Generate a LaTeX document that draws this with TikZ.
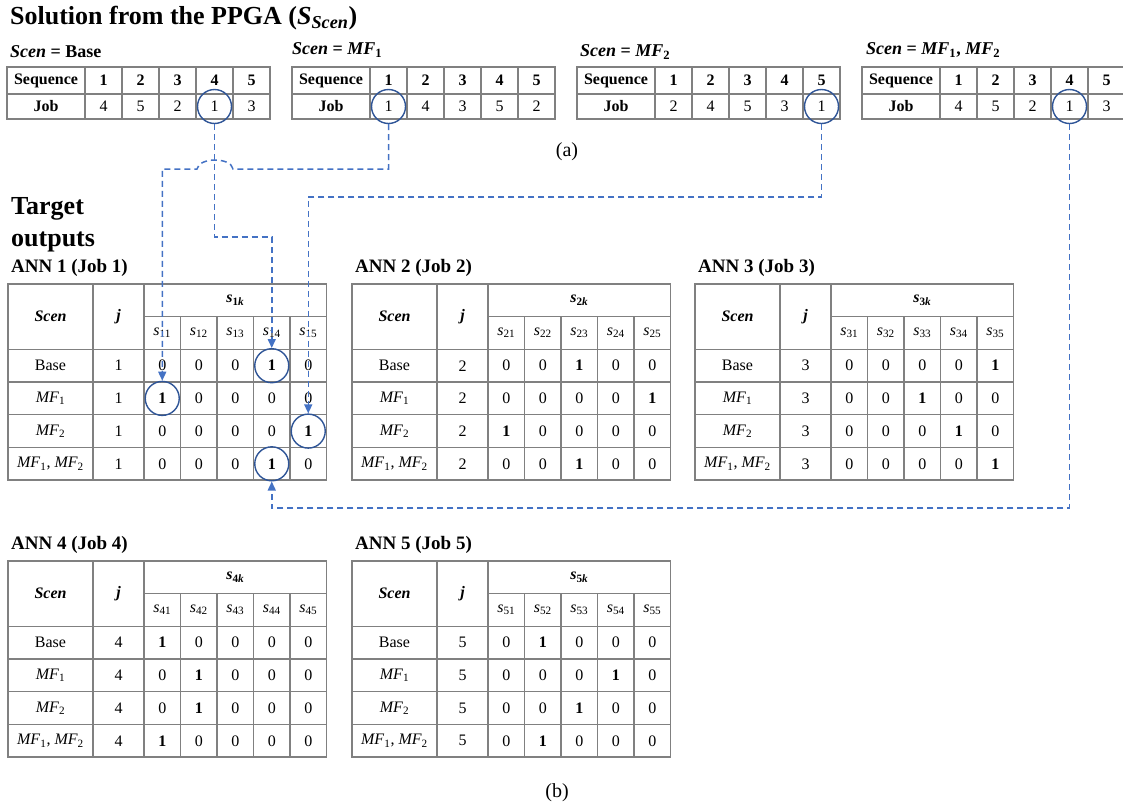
\documentclass[tikz,border=0pt]{standalone}
\usepackage{fix-cm}
\usepackage{fontspec}
\setmainfont{Liberation Serif}
\usetikzlibrary{arrows.meta}

\definecolor{linkblue}{HTML}{4472C4}
\definecolor{ringblue}{HTML}{2F5597}
\definecolor{tabgray}{HTML}{808080}

\newcommand{\seqfont}{\fontsize{16}{19}\selectfont}
\newcommand{\annfont}{\fontsize{16}{19}\selectfont}
\newcommand{\onezero}[2]{\ifnum#1=#2\relax\textbf{1}\else 0\fi}
\newcommand{\mf}[1]{\textit{MF}\textsubscript{#1}}
\newcommand{\sv}[1]{\textit{s}\textsubscript{#1}}

% sequence table: name, left x, jobs
\newcommand{\seqtab}[3]{
  \draw[tabline] (#2,67) rectangle (#2+263,119);
  \draw[tabline] (#2,94) -- (#2+263,94);
  \foreach \col in {0,...,4} {
    \draw[tabline] (#2+78+37*\col,67) -- (#2+78+37*\col,119);
  }
  \node[cell,font=\seqfont\bfseries] (#1s) at (#2+39,80.5) {Sequence};
  \node[cell,font=\seqfont\bfseries] (#1j) at (#2+39,106.5) {Job};
  \foreach \v [count=\col] in {#3} {
    \node[cell,font=\seqfont\bfseries] (#1s\col) at (#2+59.5+37*\col,80.5) {\col};
    \node[cell,font=\seqfont] (#1j\col) at (#2+59.5+37*\col,106.5) {\v};
  }
}

% ANN table grid: left x, top y
\newcommand{\anngrid}[2]{
  \draw[tabline] (#1,#2) rectangle (#1+318.5,#2+196);
  \draw[tabline] (#1+85,#2) -- (#1+85,#2+196);
  \draw[tabline] (#1+136,#2) -- (#1+136,#2+196);
  \draw[tabline] (#1+136,#2+32.7) -- (#1+318.5,#2+32.7);
  \foreach \col in {1,...,4} {
    \draw[tabline] (#1+136+36.5*\col,#2+32.7) -- (#1+136+36.5*\col,#2+196);
  }
  \foreach \rw in {0,...,3} {
    \draw[tabline] (#1,#2+65.4+32.7*\rw) -- (#1+318.5,#2+65.4+32.7*\rw);
  }
}
% ANN table header: name, left x, top y, job
\newcommand{\annhead}[4]{
  \node[cell,font=\annfont\bfseries\itshape] (#1scen) at (#2+42.5,#3+32.7) {Scen};
  \node[cell,font=\annfont\bfseries\itshape] (#1jj) at (#2+110.5,#3+32.7) {j};
  \node[cell,font=\annfont\bfseries] (#1s) at (#2+227.25,#3+16.35) {\sv{#4\textit{k}}};
  \foreach \col in {1,...,5} {
    \node[cell,font=\annfont] (#1s\col) at (#2+117.75+36.5*\col,#3+49) {\sv{#4\col}};
  }
}
% ANN table rows: name, left x, top y, job
\newcommand{\annrows}[4]{
  \foreach \lab [count=\rw] in {Base,\mf{1},\mf{2},{\mf{1}, \mf{2}}} {
    \node[cell,font=\annfont] (#1r\rw s) at (#2+42.5,#3+49+32.7*\rw) {\lab};
    \node[cell,font=\annfont] (#1r\rw j) at (#2+110.5,#3+49+32.7*\rw) {#4};
  }
}
% ANN table cells: name, left x, top y, column of the 1 in each row
\newcommand{\anncells}[4]{
  \foreach \pos [count=\rw] in {#4} {
    \foreach \col in {1,...,5} {
      \node[cell,font=\annfont] (#1r\rw c\col) at (#2+117.75+36.5*\col,#3+49+32.7*\rw)
        {\onezero{\col}{\pos}};
    }
  }
}

\begin{document}
\begin{tikzpicture}[x=1pt,y=-1pt,
  tabline/.style={draw=tabgray,line width=1.3},
  cell/.style={inner sep=0pt},
  anntitle/.style={anchor=west,inner sep=0pt,font=\fontsize{19}{22}\selectfont\bfseries},
  scenlabel/.style={anchor=west,inner sep=0pt,font=\fontsize{18}{21}\selectfont\bfseries},
  ring/.style={circle,draw=ringblue,line width=1.4,minimum size=34,inner sep=0pt},
  link/.style={draw=linkblue,line width=1.5,dash pattern=on 6pt off 4pt,-{Triangle[length=9,width=8]}}]
  \useasboundingbox (0,0) rectangle (1123,809);

  % (a) solutions from the PPGA
  \node[anchor=west,inner sep=0pt,font=\fontsize{26}{31}\selectfont\bfseries] (title) at (10,18)
    {Solution from the PPGA (\textit{S}\textsubscript{\textit{Scen}})};
  \node[scenlabel] (l1) at (10,52) {\textit{Scen} = Base};
  \node[scenlabel] (l2) at (292,50) {\textit{Scen} = \textit{MF}\textsubscript{1}};
  \node[scenlabel] (l3) at (580,52) {\textit{Scen} = \textit{MF}\textsubscript{2}};
  \node[scenlabel] (l4) at (866,50) {\textit{Scen} = \textit{MF}\textsubscript{1}, \textit{MF}\textsubscript{2}};

  \seqtab{t1}{7}{4,5,2,1,3}
  \seqtab{t2}{292}{1,4,3,5,2}
  \seqtab{t3}{577}{2,4,5,3,1}
  \seqtab{t4}{862}{4,5,2,1,3}

  \node[font=\fontsize{20}{24}\selectfont] (capa) at (567,152) {(a)};

  % (b) target outputs
  \node[anchor=base west,inner sep=0pt,font=\fontsize{26}{31}\selectfont\bfseries] (tgt1) at (11,214) {Target};
  \node[anchor=base west,inner sep=0pt,font=\fontsize{26}{31}\selectfont\bfseries] (tgt2) at (11,246) {outputs};

  \node[anntitle] (ann1) at (11,268) {ANN 1 (Job 1)};
  \node[anntitle] (ann2) at (355,268) {ANN 2 (Job 2)};
  \node[anntitle] (ann3) at (698,268) {ANN 3 (Job 3)};
  \node[anntitle] (ann4) at (11,545) {ANN 4 (Job 4)};
  \node[anntitle] (ann5) at (355,545) {ANN 5 (Job 5)};

  \anngrid{8}{284}
  \anngrid{352}{284}
  \anngrid{695}{284}
  \anngrid{8}{561}
  \anngrid{352}{561}

  \annhead{a1}{8}{284}{1}
  \annhead{a2}{352}{284}{2}
  \annhead{a3}{695}{284}{3}
  \annhead{a4}{8}{561}{4}
  \annhead{a5}{352}{561}{5}

  \annrows{a1}{8}{284}{1}
  \annrows{a2}{352}{284}{2}
  \annrows{a3}{695}{284}{3}
  \annrows{a4}{8}{561}{4}
  \annrows{a5}{352}{561}{5}

  \anncells{a1}{8}{284}{4,1,5,4}
  \anncells{a2}{352}{284}{3,5,1,3}
  \anncells{a3}{695}{284}{5,3,4,5}
  \anncells{a4}{8}{561}{1,2,2,1}
  \anncells{a5}{352}{561}{2,4,3,2}

  \node[font=\fontsize{20}{24}\selectfont] (capb) at (557,793) {(b)};

  % Job 1 in each solution
  \node[ring] (r1) at (t1j4) {};
  \node[ring] (r2) at (t2j1) {};
  \node[ring] (r3) at (t3j5) {};
  \node[ring] (r4) at (t4j4) {};
  \node[ring] (g1) at (a1r1c4) {};
  \node[ring] (g2) at (a1r2c1) {};
  \node[ring] (g3) at (a1r3c5) {};
  \node[ring] (g4) at (a1r4c4) {};

  % Links
  \draw[link] (r1.south) -- (r1.south |- 0,237) -| (g1.north);
  \draw[link] (r2.south) |- (233,169) .. controls (231,157) and (199,157) .. (197,169) -| (g2.north);
  \draw[link] (r3.south) -- (r3.south |- 0,197) -| (g3.north);
  \draw[link] (r4.south) -- (r4.south |- 0,508) -| (g4.south);
\end{tikzpicture}
\end{document}
